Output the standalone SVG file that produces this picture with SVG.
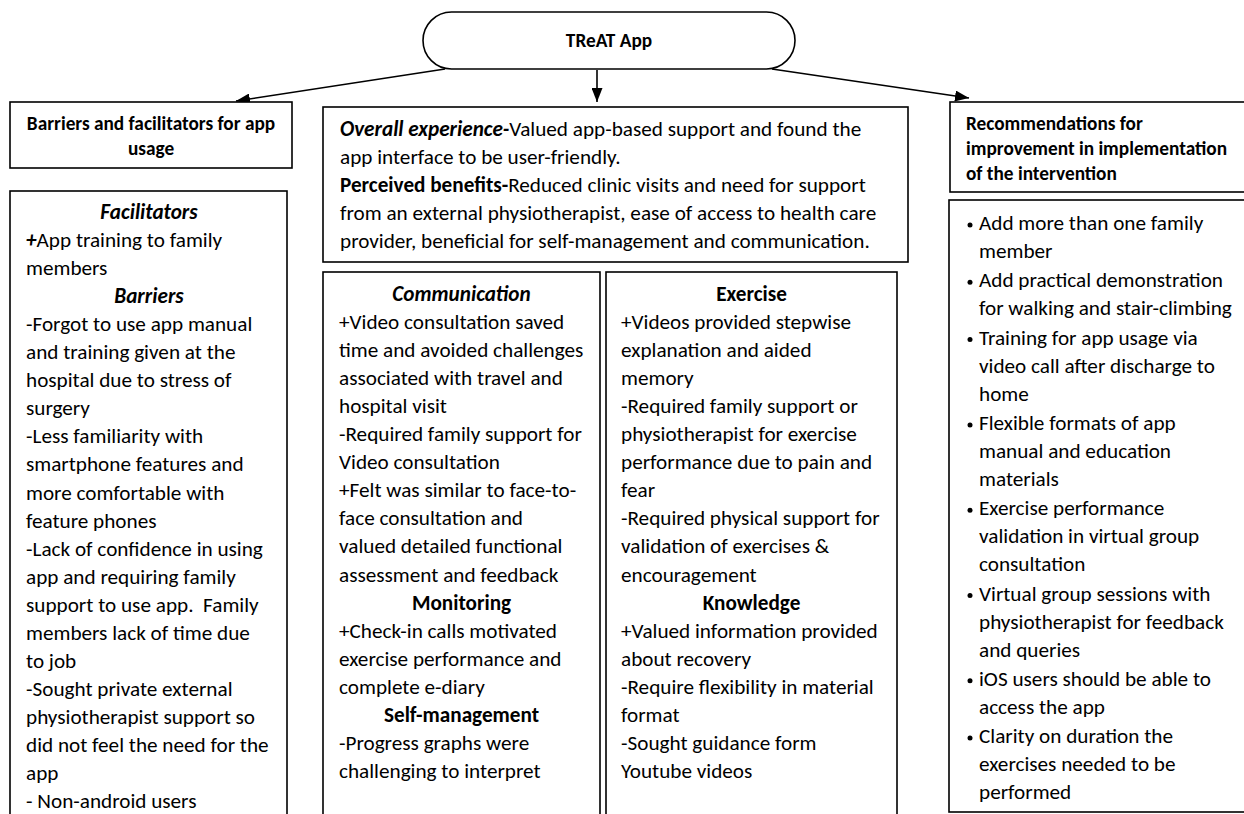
<svg xmlns="http://www.w3.org/2000/svg" width="1244" height="814" viewBox="0 0 1244 814">
<defs>
<style>
.box{fill:#fff;stroke:#000;stroke-width:1.6}
.t{font-family:Carlito,Calibri,Lato,"Liberation Sans",sans-serif;font-size:21.2px;fill:#000;white-space:pre}
.h{font-family:Carlito,Calibri,Lato,"Liberation Sans",sans-serif;font-size:19.3px;font-weight:bold;fill:#000}
.b{font-weight:bold}
.bi{font-weight:bold;font-style:italic}
.c{text-anchor:middle}
.conn{stroke:#000;stroke-width:1.6;fill:none;marker-end:url(#ah)}
</style>
<marker id="ah" markerUnits="userSpaceOnUse" markerWidth="14" markerHeight="11" viewBox="0 0 14 11" refX="14" refY="5.5" orient="auto">
<path d="M0,0 L14,5.5 L0,11 z" fill="#000"/>
</marker>
</defs>
<rect width="1244" height="814" fill="#fff"/>

<g id="connectors">
<line class="conn" x1="445" y1="69" x2="236" y2="101"/>
<line class="conn" x1="597" y1="70" x2="597" y2="102"/>
<line class="conn" x1="772" y1="69" x2="969" y2="98"/>
</g>

<g id="treat-app">
<rect class="box" x="423" y="12" width="372" height="57" rx="28.5"/>
<text class="h c" x="609" y="47">TReAT App</text>
</g>

<g id="barriers-header">
<rect class="box" x="10" y="102" width="282" height="66"/>
<text class="h c" x="151" y="130">Barriers and facilitators for app</text>
<text class="h c" x="151" y="155">usage</text>
</g>

<g id="barriers-body">
<rect class="box" x="10" y="191" width="277" height="700"/>
<text class="t bi c" x="149" y="219">Facilitators</text>
<text class="t" x="26" y="247.05"><tspan class="bi">+</tspan>App training to family</text>
<text class="t" x="26" y="275.1">members</text>
<text class="t bi c" x="149" y="303.15">Barriers</text>
<text class="t" x="26" y="331.2">-Forgot to use app manual</text>
<text class="t" x="26" y="359.25">and training given at the</text>
<text class="t" x="26" y="387.3">hospital due to stress of</text>
<text class="t" x="26" y="415.35">surgery</text>
<text class="t" x="26" y="443.4">-Less familiarity with</text>
<text class="t" x="26" y="471.45">smartphone features and</text>
<text class="t" x="26" y="499.5">more comfortable with</text>
<text class="t" x="26" y="527.55">feature phones</text>
<text class="t" x="26" y="555.6">-Lack of confidence in using</text>
<text class="t" x="26" y="583.65">app and requiring family</text>
<text class="t" x="26" y="611.7">support to use app.  Family</text>
<text class="t" x="26" y="639.75">members lack of time due</text>
<text class="t" x="26" y="667.8">to job</text>
<text class="t" x="26" y="695.85">-Sought private external</text>
<text class="t" x="26" y="723.9">physiotherapist support so</text>
<text class="t" x="26" y="751.95">did not feel the need for the</text>
<text class="t" x="26" y="780">app</text>
<text class="t" x="26" y="808.05">- Non-android users</text>
</g>

<g id="overall">
<rect class="box" x="323" y="107" width="585" height="155"/>
<text class="t" x="340" y="136"><tspan class="bi">Overall experience-</tspan>Valued app-based support and found the</text>
<text class="t" x="340" y="164">app interface to be user-friendly.</text>
<text class="t" x="340" y="192"><tspan class="b">Perceived benefits-</tspan>Reduced clinic visits and need for support</text>
<text class="t" x="340" y="220">from an external physiotherapist, ease of access to health care</text>
<text class="t" x="340" y="248">provider, beneficial for self-management and communication.</text>
</g>

<g id="communication">
<rect class="box" x="323" y="272" width="277" height="600"/>
<text class="t bi c" x="461.5" y="301">Communication</text>
<text class="t" x="339" y="329.05">+Video consultation saved</text>
<text class="t" x="339" y="357.1">time and avoided challenges</text>
<text class="t" x="339" y="385.15">associated with travel and</text>
<text class="t" x="339" y="413.2">hospital visit</text>
<text class="t" x="339" y="441.25">-Required family support for</text>
<text class="t" x="339" y="469.3">Video consultation</text>
<text class="t" x="339" y="497.35">+Felt was similar to face-to-</text>
<text class="t" x="339" y="525.4">face consultation and</text>
<text class="t" x="339" y="553.45">valued detailed functional</text>
<text class="t" x="339" y="581.5">assessment and feedback</text>
<text class="t b c" x="461.5" y="609.55">Monitoring</text>
<text class="t" x="339" y="637.6">+Check-in calls motivated</text>
<text class="t" x="339" y="665.65">exercise performance and</text>
<text class="t" x="339" y="693.7">complete e-diary</text>
<text class="t b c" x="461.5" y="721.75">Self-management</text>
<text class="t" x="339" y="749.8">-Progress graphs were</text>
<text class="t" x="339" y="777.85">challenging to interpret</text>
</g>

<g id="exercise">
<rect class="box" x="606" y="272" width="291" height="600"/>
<text class="t b c" x="751.5" y="301">Exercise</text>
<text class="t" x="621" y="329.05">+Videos provided stepwise</text>
<text class="t" x="621" y="357.1">explanation and aided</text>
<text class="t" x="621" y="385.15">memory</text>
<text class="t" x="621" y="413.2">-Required family support or</text>
<text class="t" x="621" y="441.25">physiotherapist for exercise</text>
<text class="t" x="621" y="469.3">performance due to pain and</text>
<text class="t" x="621" y="497.35">fear</text>
<text class="t" x="621" y="525.4">-Required physical support for</text>
<text class="t" x="621" y="553.45">validation of exercises &amp;</text>
<text class="t" x="621" y="581.5">encouragement</text>
<text class="t b c" x="751.5" y="609.55">Knowledge</text>
<text class="t" x="621" y="637.6">+Valued information provided</text>
<text class="t" x="621" y="665.65">about recovery</text>
<text class="t" x="621" y="693.7">-Require flexibility in material</text>
<text class="t" x="621" y="721.75">format</text>
<text class="t" x="621" y="749.8">-Sought guidance form</text>
<text class="t" x="621" y="777.85">Youtube videos</text>
</g>

<g id="recommendations-header">
<rect class="box" x="950" y="102" width="300" height="90"/>
<text class="h" x="966" y="130">Recommendations for</text>
<text class="h" x="966" y="155">improvement in implementation</text>
<text class="h" x="966" y="180">of the intervention</text>
</g>

<g id="recommendations-body">
<rect class="box" x="949" y="200" width="300" height="612"/>
<g fill="#000">
<circle cx="970" cy="225" r="2.5"/>
<circle cx="970" cy="282.3" r="2.5"/>
<circle cx="970" cy="339.6" r="2.5"/>
<circle cx="970" cy="424.9" r="2.5"/>
<circle cx="970" cy="510.2" r="2.5"/>
<circle cx="970" cy="595.5" r="2.5"/>
<circle cx="970" cy="680.8" r="2.5"/>
<circle cx="970" cy="738.1" r="2.5"/>
</g>
<text class="t" x="979" y="230">Add more than one family</text>
<text class="t" x="979" y="258">member</text>
<text class="t" x="979" y="287.3">Add practical demonstration</text>
<text class="t" x="979" y="315.3">for walking and stair-climbing</text>
<text class="t" x="979" y="344.6">Training for app usage via</text>
<text class="t" x="979" y="372.6">video call after discharge to</text>
<text class="t" x="979" y="400.6">home</text>
<text class="t" x="979" y="429.9">Flexible formats of app</text>
<text class="t" x="979" y="457.9">manual and education</text>
<text class="t" x="979" y="485.9">materials</text>
<text class="t" x="979" y="515.2">Exercise performance</text>
<text class="t" x="979" y="543.2">validation in virtual group</text>
<text class="t" x="979" y="571.2">consultation</text>
<text class="t" x="979" y="600.5">Virtual group sessions with</text>
<text class="t" x="979" y="628.5">physiotherapist for feedback</text>
<text class="t" x="979" y="656.5">and queries</text>
<text class="t" x="979" y="685.8">iOS users should be able to</text>
<text class="t" x="979" y="713.8">access the app</text>
<text class="t" x="979" y="743.1">Clarity on duration the</text>
<text class="t" x="979" y="771.1">exercises needed to be</text>
<text class="t" x="979" y="799.1">performed</text>
</g>
</svg>
